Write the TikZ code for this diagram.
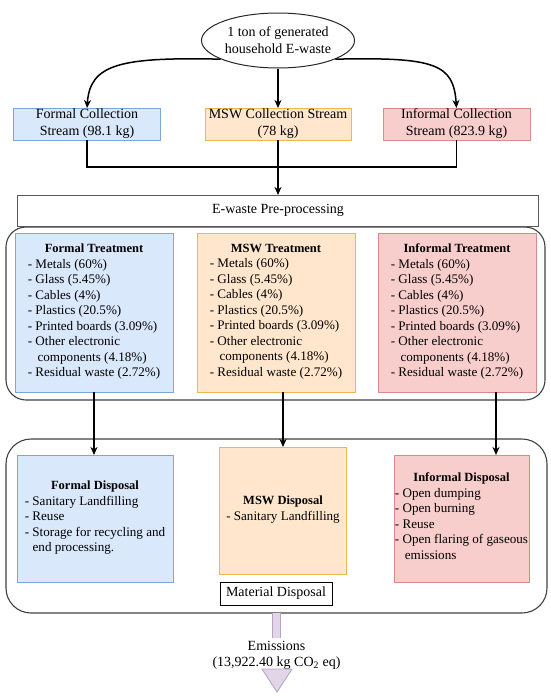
\documentclass[tikz,border=0pt]{standalone}
\usepackage{fontspec}
\setmainfont{Liberation Serif}
\usetikzlibrary{shapes.geometric,arrows.meta}
\definecolor{bF}{HTML}{DAE8FC}\definecolor{bD}{HTML}{7EA6D8}
\definecolor{oF}{HTML}{FFE6CC}\definecolor{oD}{HTML}{EDB84F}
\definecolor{rF}{HTML}{F8CECC}\definecolor{rD}{HTML}{DC8A88}
\definecolor{eF}{HTML}{E1D5E7}\definecolor{eD}{HTML}{B9A2C8}
\definecolor{grp}{HTML}{404040}
\newcommand{\lst}{\fontsize{13.1}{15.5}\selectfont}
\begin{document}
\begin{tikzpicture}[x=1pt,y=-1pt,
  big/.style={font=\fontsize{14}{17}\selectfont},
  small/.style={font=\fontsize{12.5}{15.5}\selectfont},
  box/.style={inner sep=0pt, outer sep=0pt, line width=0.9pt, align=center},
  blueb/.style={box, draw=bD, fill=bF},
  orangeb/.style={box, draw=oD, fill=oF},
  redb/.style={box, draw=rD, fill=rF},
  grpbox/.style={draw=grp, line width=1.1pt, inner sep=0pt, outer sep=0pt},
  conn/.style={line width=1.5pt, black},
  arr/.style={conn, -{Stealth[length=8pt,width=7pt,inset=2.5pt]}},
  collbox/.style={big, minimum height=32pt},
  treatbox/.style={small, minimum width=158pt, minimum height=159pt},
  dispbox/.style={small, minimum height=127pt}
]
\useasboundingbox (0,0) rectangle (550,696);

% source
\node[draw=black!85, line width=1pt, ellipse, inner sep=0pt, minimum width=153pt,
      minimum height=55pt, align=center, big] (src) at (278,40.5)
      {1 ton of generated\\household E-waste};

% collection streams
\node[blueb, collbox, minimum width=147pt] (fc) at (87,124) {Formal Collection\\Stream (98.1 kg)};
\node[orangeb, collbox, minimum width=146pt] (mc) at (278,124) {MSW Collection Stream\\(78 kg)};
\node[redb, collbox, minimum width=147pt] (ic) at (456.5,124) {Informal Collection\\Stream (823.9 kg)};

\draw[arr] (src.198) .. controls (120,57) and (90,64) .. (fc.north);
\draw[arr] (src.342) .. controls (436,57) and (453.5,64) .. (ic.north);
\draw[arr] (src.south) -- (mc.north);

% treatment group and pre-processing
\node[grpbox, rounded corners=20pt, minimum width=539pt, minimum height=173pt] (tg) at (275.5,313.5) {};
\node[box, draw=black!65, fill=white, line width=1pt, big, minimum width=521pt, minimum height=31pt] (pre) at (278,210.5) {E-waste Pre-processing};

\coordinate (j) at (278,167);
\draw[conn] (fc.south) |- (j);
\draw[conn] (ic.south) |- (j);
\draw[arr] (mc.south) -- (pre.north);

% treatments
\node[blueb, treatbox] (tf) at (94,312.5) {\textbf{Formal Treatment}\\
  {\lst\begin{tabular}[t]{@{}l@{}}- Metals (60\%)\\- Glass (5.45\%)\\- Cables (4\%)\\- Plastics (20.5\%)\\- Printed boards (3.09\%)\\- Other electronic\\\hspace*{0.75em}components (4.18\%)\\- Residual waste (2.72\%)\end{tabular}}};
\node[orangeb, treatbox] (tm) at (276,312.5) {\textbf{MSW Treatment}\\
  {\lst\begin{tabular}[t]{@{}l@{}}- Metals (60\%)\\- Glass (5.45\%)\\- Cables (4\%)\\- Plastics (20.5\%)\\- Printed boards (3.09\%)\\- Other electronic\\\hspace*{0.75em}components (4.18\%)\\- Residual waste (2.72\%)\end{tabular}}};
\node[redb, treatbox] (ti) at (457,312.5) {\textbf{Informal Treatment}\\
  {\lst\begin{tabular}[t]{@{}l@{}}- Metals (60\%)\\- Glass (5.45\%)\\- Cables (4\%)\\- Plastics (20.5\%)\\- Printed boards (3.09\%)\\- Other electronic\\\hspace*{0.75em}components (4.18\%)\\- Residual waste (2.72\%)\end{tabular}}};

% disposal group
\node[grpbox, rounded corners=25pt, minimum width=541pt, minimum height=174pt] (dg) at (276.5,526) {};

\node[blueb, dispbox, minimum width=156pt] (df) at (95,518.5) {\textbf{Formal Disposal}\\
  {\lst\begin{tabular}[t]{@{}l@{}}- Sanitary Landfilling\\- Reuse\\- Storage for recycling and\\\hspace*{0.6em}end processing.\end{tabular}}};
\node[orangeb, dispbox, minimum width=127pt] (dm) at (283,510.5) {\textbf{MSW Disposal}\\
  {\lst\begin{tabular}[t]{@{}l@{}}- Sanitary Landfilling\end{tabular}}};
\node[redb, dispbox, minimum width=135pt] (di) at (461.5,518.5) {\textbf{Informal Disposal}\\
  {\lst\begin{tabular}[t]{@{}l@{}}- Open dumping\\- Open burning\\- Reuse\\- Open flaring of gaseous\\\hspace*{0.75em}emissions\end{tabular}}};

\node[box, draw=black, fill=white, line width=1pt, big, minimum width=112pt, minimum height=23pt] (md) at (276,593.5) {Material Disposal};

\draw[arr] (tf.south) -- (tf.south |- df.north);
\draw[arr] (dm.north |- tm.south) -- (dm.north);
\draw[arr] ([xshift=39pt]ti.south) -- ([xshift=39pt]ti.south |- di.north);

% emissions
\coordinate (es) at (md.south |- dg.south);
\fill[eF] ([xshift=-4pt]es) rectangle ([xshift=4pt,yshift=-25pt]es);
\draw[eD, line width=0.9pt] ([xshift=-4pt]es) -- ([xshift=-4pt,yshift=-25pt]es)
      ([xshift=4pt]es) -- ([xshift=4pt,yshift=-25pt]es);
\node[align=center, inner sep=0pt, font=\fontsize{14}{16}\selectfont] (em) at (276.5,655)
      {Emissions\\(13,922.40 kg CO\textsubscript{2} eq)};
\filldraw[fill=eF, draw=eD, line width=0.9pt, line join=miter] ([xshift=-14pt,yshift=-56pt]es) -- ([xshift=16pt,yshift=-56pt]es) -- ([xshift=1pt,yshift=-79pt]es) -- cycle;
\end{tikzpicture}
\end{document}
